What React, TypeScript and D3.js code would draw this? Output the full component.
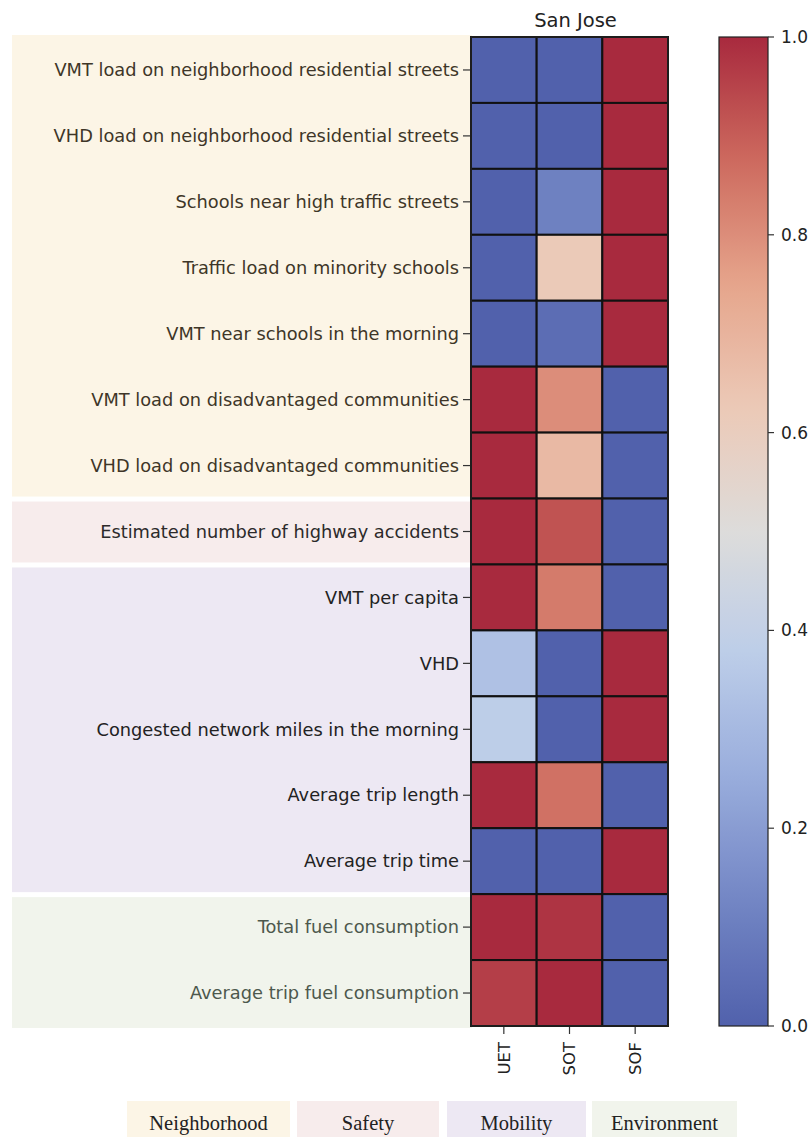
import React from "react";
import * as d3 from "d3";

// Metric rows (top to bottom) and scenario columns
const metrics = [
  "VMT load on neighborhood residential streets",
  "VHD load on neighborhood residential streets",
  "Schools near high traffic streets",
  "Traffic load on minority schools",
  "VMT near schools in the morning",
  "VMT load on disadvantaged communities",
  "VHD load on disadvantaged communities",
  "Estimated number of highway accidents",
  "VMT per capita",
  "VHD",
  "Congested network miles in the morning",
  "Average trip length",
  "Average trip time",
  "Total fuel consumption",
  "Average trip fuel consumption",
];
const scenarios = ["UET", "SOT", "SOF"];

// Normalised scores per scenario (one value per metric row)
const uetValues = [0, 0, 0, 0, 0, 1, 1, 1, 1, 0.33, 0.38, 1, 0, 1, 0.96];
const sotValues = [0, 0, 0.11, 0.62, 0.04, 0.8, 0.68, 0.92, 0.84, 0, 0, 0.86, 0, 0.98, 1];
const sofValues = [1, 1, 1, 1, 1, 0, 0, 0, 0, 1, 1, 0, 1, 0, 0];

// Category of each metric row
const categories = ["Neighborhood", "Safety", "Mobility", "Environment"];
const rowCategory = [0, 0, 0, 0, 0, 0, 0, 1, 2, 2, 2, 2, 2, 3, 3];

const colorbarTicks = [0, 0.2, 0.4, 0.6, 0.8, 1.0];

const categoryFill = ["#fcf5e6", "#f7ecec", "#ede8f3", "#f1f4ec"];
const categoryText = ["#3e3628", "#2c2a2a", "#222222", "#4d584d"];

// Muted cool-warm diverging palette
const paletteStops = [
  "#5161ac", "#7285c4", "#98acdc", "#bccde9", "#dddcdb",
  "#ecc9b7", "#e6a58c", "#cd6a5e", "#a82a3e",
];
const color = d3.scaleLinear<string>()
  .domain(paletteStops.map((_, i) => i / (paletteStops.length - 1)))
  .range(paletteStops)
  .interpolate(d3.interpolateRgb)
  .clamp(true);

const W = 811;
const H = 1137;
const FONT = "DejaVu Sans, sans-serif";

export default function App() {
  const x = d3.scaleBand<string>().domain(scenarios).range([471, 668]);
  const y = d3.scaleBand<string>().domain(metrics).range([37, 1026]);
  const cb = d3.scaleLinear().domain([0, 1]).range([1026, 37]);
  const cbX0 = 719;
  const cbX1 = 768;

  const series = [uetValues, sotValues, sofValues];
  const cells = metrics.flatMap((m, r) =>
    scenarios.map((s, c) => ({ m, s, v: series[c][r] }))
  );

  // Background bands per category
  const bands = categories.map((cat, ci) => {
    const idx = rowCategory.map((g, i) => (g === ci ? i : -1)).filter((i) => i >= 0);
    const first = idx[0];
    const last = idx[idx.length - 1];
    const top = y(metrics[first])! + (first === 0 ? -2 : 3);
    const bottom = y(metrics[last])! + y.bandwidth() + (last === metrics.length - 1 ? 2 : -2);
    return { cat, ci, top, bottom };
  });

  const gradStops = d3.range(0, 1.0001, 0.02);

  // Legend boxes below the chart
  const legendBoxes = [
    { x0: 127, x1: 290 },
    { x0: 297, x1: 439 },
    { x0: 447, x1: 586 },
    { x0: 592, x1: 737 },
  ];

  return (
    <svg
      width={W}
      height={H}
      style={{ position: "absolute", left: 0, top: 0, background: "#fff" }}
    >
      <defs>
        <linearGradient id="cbgrad" x1="0" y1="1" x2="0" y2="0">
          {gradStops.map((t) => (
            <stop key={t} offset={t} stopColor={color(t)} />
          ))}
        </linearGradient>
      </defs>

      {bands.map((b) => (
        <rect
          key={b.cat}
          x={12}
          y={b.top}
          width={460}
          height={b.bottom - b.top}
          fill={categoryFill[b.ci]}
        />
      ))}

      <text
        x={(x.range()[0] + x.range()[1]) / 2 + 6}
        y={27}
        textAnchor="middle"
        fontFamily={FONT}
        fontSize={19.5}
        fill="#222"
      >
        San Jose
      </text>

      {/* heatmap cells */}
      {cells.map((d) => (
        <rect
          key={d.m + d.s}
          x={x(d.s)}
          y={y(d.m)}
          width={x.bandwidth()}
          height={y.bandwidth()}
          fill={color(d.v)}
          stroke="#111"
          strokeWidth={2}
        />
      ))}
      <rect
        x={x.range()[0]}
        y={y.range()[0]}
        width={x.range()[1] - x.range()[0]}
        height={y.range()[1] - y.range()[0]}
        fill="none"
        stroke="#222"
        strokeWidth={1.5}
      />

      {/* y axis labels */}
      {metrics.map((m, i) => {
        const cy = y(m)! + y.bandwidth() / 2;
        return (
          <g key={m}>
            <line x1={463} x2={470} y1={cy} y2={cy} stroke="#333" strokeWidth={1.2} />
            <text
              x={459}
              y={cy}
              dy="0.35em"
              textAnchor="end"
              fontFamily={FONT}
              fontSize={17.8}
              fill={categoryText[rowCategory[i]]}
            >
              {m}
            </text>
          </g>
        );
      })}

      {/* x axis labels */}
      {scenarios.map((s) => {
        const cx = x(s)! + x.bandwidth() / 2;
        return (
          <g key={s}>
            <line x1={cx} x2={cx} y1={1027} y2={1034} stroke="#333" strokeWidth={1.2} />
            <text
              transform={`translate(${cx},${1042}) rotate(-90)`}
              dy="0.35em"
              textAnchor="end"
              fontFamily={FONT}
              fontSize={16.5}
              fill="#222"
            >
              {s}
            </text>
          </g>
        );
      })}

      {/* colorbar */}
      <rect
        x={cbX0}
        y={cb(1)}
        width={cbX1 - cbX0}
        height={cb(0) - cb(1)}
        fill="url(#cbgrad)"
        stroke="#222"
        strokeWidth={1.2}
      />
      {colorbarTicks.map((t) => (
        <g key={t}>
          <line x1={cbX1} x2={cbX1 + 6} y1={cb(t)} y2={cb(t)} stroke="#333" strokeWidth={1.2} />
          <text
            x={cbX1 + 13}
            y={cb(t)}
            dy="0.35em"
            fontFamily={FONT}
            fontSize={17}
            fill="#222"
          >
            {t.toFixed(1)}
          </text>
        </g>
      ))}

      {/* category legend */}
      {categories.map((c, i) => (
        <g key={c}>
          <rect
            x={legendBoxes[i].x0}
            y={1101}
            width={legendBoxes[i].x1 - legendBoxes[i].x0}
            height={40}
            fill={categoryFill[i]}
          />
          <text
            x={(legendBoxes[i].x0 + legendBoxes[i].x1) / 2}
            y={1130}
            textAnchor="middle"
            fontFamily="Liberation Serif, serif"
            fontSize={20.5}
            fill="#222"
          >
            {c}
          </text>
        </g>
      ))}
    </svg>
  );
}
